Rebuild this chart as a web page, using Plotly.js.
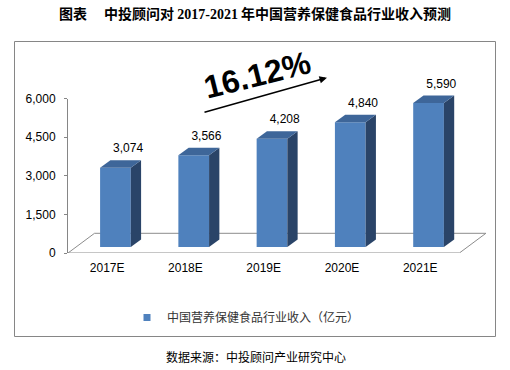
<!DOCTYPE html>
<html>
<head>
<meta charset="utf-8">
<script src="https://cdn.plot.ly/plotly-3.0.1.min.js"></script>
<style>
  html, body { margin: 0; padding: 0; background: #ffffff; }
  #chart { width: 510px; height: 370px; }
</style>
</head>
<body>
<div id="chart"></div>
<script>
// ---------- data ----------
const categories = ['2017E', '2018E', '2019E', '2020E', '2021E'];
const revenue = [3074, 3566, 4208, 4840, 5590];
const valueLabels = ['3,074', '3,566', '4,208', '4,840', '5,590'];
const yTickVals = [0, 1500, 3000, 4500, 6000];
const yTickText = ['0', '1,500', '3,000', '4,500', '6,000'];
const seriesName = '中国营养保健食品行业收入（亿元）';
const growthText = '16.12%';
const titleText = '图表　 中投顾问对 <span style="font-family:\'Liberation Serif\',serif">2017-2021</span> 年中国营养保健食品行业收入预测';
const sourceText = '数据来源：中投顾问产业研究中心';

// ---------- layout geometry ----------
const W = 510, H = 370;
const M = { l: 68, r: 24, t: 70, b: 117 };
const plotW = W - M.l - M.r, plotH = H - M.t - M.b;
const XMIN = -0.5, XMAX = 4.84;
const YMAX = 6000;
const yDomTop = 154.5 / plotH;
const Y2MAX = YMAX / yDomTop;
const PX_X = (XMAX - XMIN) / plotW;   // category units per pixel
const PX_Y = Y2MAX / plotH;           // value units per pixel

// 3D look (pixels)
const barOff = 8.3, barW = 30.7, baseLift = 6, depthX = 10.3, depthY = 7.5;
const floorDX = 26.5, floorDY = 19.7;

const FRONT = '#4F81BD', TOP = '#3E6699', SIDE = '#2A4468';

const idx = categories.map((c, i) => i);
const base = baseLift * PX_Y;
const dx = depthX * PX_X, dy = depthY * PX_Y;

const traces = [];
// front faces
traces.push({
  type: 'bar', x: idx.map(i => i + barOff * PX_X), y: revenue, base: revenue.map(() => base),
  width: barW * PX_X, marker: { color: FRONT, line: { width: 0 } },
  xaxis: 'x', yaxis: 'y2', showlegend: false, hoverinfo: 'skip'
});
// side and top faces
revenue.forEach((v, i) => {
  const xl = i + barOff * PX_X - barW * PX_X / 2, xr = xl + barW * PX_X;
  const b = base, t = base + v;
  traces.push({
    type: 'scatter', mode: 'lines', fill: 'toself', fillcolor: SIDE, line: { width: 0, color: SIDE },
    x: [xr, xr + dx, xr + dx, xr, xr], y: [b, b + dy, t + dy, t, b],
    xaxis: 'x', yaxis: 'y2', showlegend: false, hoverinfo: 'skip'
  });
  traces.push({
    type: 'scatter', mode: 'lines', fill: 'toself', fillcolor: TOP, line: { width: 0, color: TOP },
    x: [xl, xr, xr + dx, xl + dx, xl], y: [t, t, t + dy, t + dy, t],
    xaxis: 'x', yaxis: 'y2', showlegend: false, hoverinfo: 'skip'
  });
});
// value labels
traces.push({
  type: 'scatter', mode: 'text', cliponaxis: false,
  x: idx.map(i => i + 21 * PX_X), y: revenue.map(v => base + v + dy + 11 * PX_Y),
  text: valueLabels, textposition: 'middle center',
  textfont: { family: 'Liberation Sans, Arial, sans-serif', size: 12, color: '#000' },
  xaxis: 'x', yaxis: 'y2', showlegend: false, hoverinfo: 'skip'
});
// legend entry (on the visible y axis)
traces.push({
  type: 'scatter', mode: 'markers', x: [null], y: [null], name: seriesName,
  marker: { symbol: 'square', size: 7, color: FRONT },
  xaxis: 'x', yaxis: 'y', showlegend: true, hoverinfo: 'skip'
});

const px2paperX = px => (px - M.l) / plotW;
const px2paperY = py => (H - M.b - py) / plotH;

const fdx = floorDX * PX_X, fdy = floorDY * PX_Y;
const floorPath = `M${XMIN},0 L${XMIN + categories.length},0 L${XMIN + categories.length + fdx},${fdy} L${XMIN + fdx},${fdy} Z`;

const layout = {
  width: W, height: H,
  margin: M,
  paper_bgcolor: '#ffffff', plot_bgcolor: 'rgba(0,0,0,0)',
  font: { family: 'Liberation Sans, Arial, sans-serif', size: 12, color: '#000' },
  title: {
    text: titleText, xref: 'container', yref: 'container', x: 0.5, xanchor: 'center',
    y: 1 - 14 / H, yanchor: 'middle',
    font: { family: "'Noto Sans CJK SC', sans-serif", size: 14, weight: 700, color: '#000' }
  },
  xaxis: {
    range: [XMIN, XMAX], tickmode: 'array', tickvals: idx, ticktext: categories,
    showline: false, showgrid: false, zeroline: false, ticks: '', ticklabelstandoff: 6,
    tickfont: { family: 'Liberation Sans, Arial, sans-serif', size: 12, color: '#000' },
    fixedrange: true
  },
  xaxis2: {
    overlaying: 'x', anchor: 'y', side: 'bottom', range: [XMIN, XMAX], tickmode: 'array',
    tickvals: [-0.5, 0.5, 1.5, 2.5, 3.5, 4.5], showticklabels: false,
    ticks: 'outside', ticklen: 4, tickcolor: '#868686', tickwidth: 1,
    showline: false, showgrid: false, zeroline: false, fixedrange: true
  },
  yaxis: {
    domain: [0, yDomTop], range: [0, YMAX], tickmode: 'array', tickvals: yTickVals, ticktext: yTickText,
    showline: true, linecolor: '#868686', linewidth: 1, ticks: 'outside', ticklen: 3,
    tickcolor: '#868686', showgrid: false, zeroline: false, ticklabelstandoff: 6,
    tickfont: { family: 'Liberation Sans, Arial, sans-serif', size: 12, color: '#000' },
    fixedrange: true
  },
  yaxis2: {
    domain: [0, 1], range: [0, Y2MAX], anchor: 'x', visible: false, fixedrange: true
  },
  showlegend: true,
  legend: {
    orientation: 'h', x: px2paperX(127), xanchor: 'left', y: px2paperY(303), yanchor: 'top',
    bgcolor: 'rgba(0,0,0,0)',
    font: { family: "'Noto Sans CJK SC', sans-serif", size: 12, color: '#333' }
  },
  shapes: [
    { type: 'path', xref: 'x', yref: 'y2', layer: 'below', path: floorPath,
      line: { color: '#8c8c8c', width: 1 }, fillcolor: 'rgba(0,0,0,0)' },
    { type: 'rect', xref: 'paper', yref: 'paper', layer: 'below',
      x0: px2paperX(14.5), x1: px2paperX(495.5), y0: px2paperY(336.5), y1: px2paperY(41.5),
      line: { color: '#868686', width: 1 }, fillcolor: 'rgba(0,0,0,0)' }
  ],
  annotations: [
    { xref: 'paper', yref: 'paper', x: px2paperX(257), y: px2paperY(75), text: growthText,
      showarrow: false, textangle: -14, xanchor: 'center', yanchor: 'middle',
      font: { family: 'Liberation Sans, Arial, sans-serif', size: 32, weight: 700, color: '#000' } },
    { xref: 'paper', yref: 'paper', x: px2paperX(327), y: px2paperY(77.7), text: '',
      showarrow: true, arrowhead: 2, arrowsize: 1, arrowwidth: 1.5, arrowcolor: '#000',
      ax: -124, ay: 35, standoff: 0, startstandoff: 0 },
    { xref: 'paper', yref: 'paper', x: px2paperX(255.5), y: px2paperY(356), text: sourceText,
      showarrow: false, xanchor: 'center', yanchor: 'middle',
      font: { family: "'Noto Sans CJK SC', sans-serif", size: 12, color: '#000' } }
  ]
};

Plotly.newPlot('chart', traces, layout, { staticPlot: true, displayModeBar: false });
</script>
</body>
</html>
